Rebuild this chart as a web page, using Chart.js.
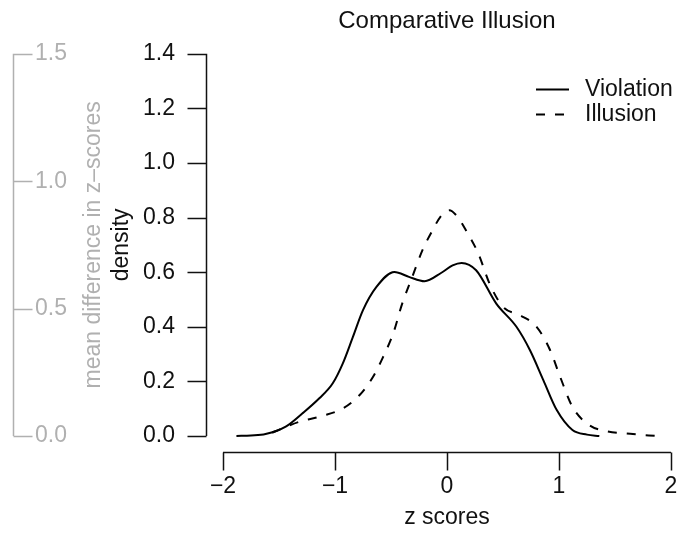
<!DOCTYPE html>
<html>
<head>
<meta charset="utf-8">
<script src="https://cdn.jsdelivr.net/npm/chart.js@4.4.1/dist/chart.umd.min.js"></script>
<style>
  html, body { margin: 0; padding: 0; background: #fff; }
  #wrap { width: 686px; height: 533px; position: relative; }
</style>
</head>
<body>
<div id="wrap"><canvas id="densityChart"></canvas></div>
<script>
// Density curves of the z scores, one per condition
const zViolation = [-1.88, -1.75, -1.62, -1.44, -1.29, -1.14, -1.02, -0.93, -0.84, -0.75, -0.63, -0.47, -0.34, -0.2, -0.05, 0.05, 0.13, 0.26, 0.44, 0.62, 0.74, 0.86, 0.98, 1.12, 1.25, 1.36];
const densityViolation = [0.0, 0.002, 0.007, 0.034, 0.083, 0.138, 0.193, 0.266, 0.363, 0.461, 0.546, 0.601, 0.583, 0.567, 0.598, 0.625, 0.634, 0.607, 0.485, 0.400, 0.315, 0.205, 0.095, 0.022, 0.005, 0.0];

const zIllusion = [-1.56, -1.47, -1.32, -1.11, -0.93, -0.78, -0.66, -0.57, -0.48, -0.40, -0.31, -0.22, -0.13, -0.05, 0.02, 0.09, 0.17, 0.28, 0.38, 0.50, 0.65, 0.80, 0.92, 1.01, 1.12, 1.27, 1.42, 1.66, 1.87];
const densityIllusion = [0.012, 0.028, 0.052, 0.074, 0.101, 0.150, 0.217, 0.290, 0.376, 0.485, 0.583, 0.680, 0.753, 0.808, 0.827, 0.805, 0.753, 0.668, 0.558, 0.473, 0.443, 0.400, 0.315, 0.217, 0.107, 0.040, 0.018, 0.007, 0.0];

// Tick positions for the three axes
const zTicks = [-2, -1, 0, 1, 2];
const densityTicks = [0, 0.2, 0.4, 0.6, 0.8, 1.0, 1.2, 1.4];
const meanDiffTicks = [0, 0.5, 1.0, 1.5];

const FONT = "'Liberation Sans', Arial, Helvetica, sans-serif";
const TEXT_SIZE = 23;
const GREY = '#b0b0b0';
const INK = '#111';

function toPoints(xs, ys) {
    return xs.map((x, i) => ({ x: x, y: ys[i] }));
}

function minusSign(v) {
    return v < 0 ? '\u2212' + Math.abs(v) : String(v);
}

// R-style axes: lines detached from the plot area, ticks pointing outwards
const offsetAxes = {
    id: 'offsetAxes',
    afterDraw(chart) {
        const ctx = chart.ctx;
        const area = chart.chartArea;
        const xs = chart.scales.x;
        const ys = chart.scales.y;
        const gs = chart.scales.yDiff;
        const tick = 18;
        ctx.save();
        ctx.lineWidth = 1.5;

        // x axis
        const ay = Math.round(area.bottom + 16) + 0.5;
        ctx.strokeStyle = INK;
        ctx.beginPath();
        ctx.moveTo(xs.getPixelForValue(zTicks[0]), ay);
        ctx.lineTo(xs.getPixelForValue(zTicks[zTicks.length - 1]), ay);
        zTicks.forEach(v => {
            const px = Math.round(xs.getPixelForValue(v)) + 0.5;
            ctx.moveTo(px, ay);
            ctx.lineTo(px, ay + tick);
        });
        ctx.stroke();

        // density axis
        const ax = Math.round(area.left - 17) + 0.5;
        ctx.beginPath();
        ctx.moveTo(ax, ys.getPixelForValue(densityTicks[0]));
        ctx.lineTo(ax, ys.getPixelForValue(densityTicks[densityTicks.length - 1]));
        densityTicks.forEach(v => {
            const py = Math.round(ys.getPixelForValue(v)) + 0.5;
            ctx.moveTo(ax, py);
            ctx.lineTo(ax - tick - 1, py);
        });
        ctx.stroke();

        // mean difference axis, ticks to the right
        const gx = Math.round(gs.left - 22) + 0.5;
        ctx.strokeStyle = GREY;
        ctx.beginPath();
        ctx.moveTo(gx, gs.getPixelForValue(meanDiffTicks[0]));
        ctx.lineTo(gx, gs.getPixelForValue(meanDiffTicks[meanDiffTicks.length - 1]));
        meanDiffTicks.forEach(v => {
            const py = Math.round(gs.getPixelForValue(v)) + 0.5;
            ctx.moveTo(gx, py);
            ctx.lineTo(gx + tick + 1, py);
        });
        ctx.stroke();
        ctx.restore();
    }
};

// legend in the top right corner, lines instead of boxes
const lineLegend = {
    id: 'lineLegend',
    afterDraw(chart) {
        const ctx = chart.ctx;
        const area = chart.chartArea;
        ctx.save();
        ctx.font = TEXT_SIZE + 'px ' + FONT;
        ctx.textBaseline = 'middle';
        ctx.textAlign = 'left';
        chart.data.datasets.forEach((ds, i) => {
            const y = Math.round(area.top + 35 + i * 25) + 0.5;
            const x0 = area.right - 135;
            ctx.strokeStyle = ds.borderColor;
            ctx.lineWidth = ds.borderWidth;
            ctx.setLineDash(ds.borderDash || []);
            ctx.beginPath();
            ctx.moveTo(x0, y);
            ctx.lineTo(x0 + 33, y);
            ctx.stroke();
            ctx.setLineDash([]);
            ctx.fillStyle = INK;
            ctx.fillText(ds.label, area.right - 86, y);
        });
        ctx.restore();
    }
};

const ctx = document.getElementById('densityChart').getContext('2d');

new Chart(ctx, {
    type: 'line',
    data: {
        datasets: [{
            label: 'Violation',
            data: toPoints(zViolation, densityViolation),
            borderColor: '#000',
            borderWidth: 2,
            borderDash: [],
            pointRadius: 0,
            cubicInterpolationMode: 'monotone',
            clip: false,
            yAxisID: 'y'
        }, {
            label: 'Illusion',
            data: toPoints(zIllusion, densityIllusion),
            borderColor: '#000',
            borderWidth: 2,
            borderDash: [9, 10],
            pointRadius: 0,
            cubicInterpolationMode: 'monotone',
            clip: false,
            yAxisID: 'y'
        }]
    },
    options: {
        responsive: true,
        maintainAspectRatio: false,
        animation: false,
        devicePixelRatio: 1,
        layout: { padding: { left: 35, right: 15, top: 0, bottom: 0 } },
        plugins: {
            legend: { display: false },
            tooltip: { enabled: false },
            title: {
                display: true,
                text: 'Comparative Illusion',
                fullSize: false,
                color: INK,
                font: { family: FONT, size: 24, weight: 'normal' },
                padding: { top: 6, bottom: 18.5 }
            }
        },
        scales: {
            x: {
                type: 'linear',
                min: -2,
                max: 2,
                // invisible tick marks only reserve the gap above the labels
                grid: {
                    display: true,
                    drawOnChartArea: false,
                    drawTicks: true,
                    tickLength: 37,
                    color: 'rgba(0,0,0,0)'
                },
                border: { display: false },
                afterBuildTicks: s => { s.ticks = zTicks.map(v => ({ value: v })); },
                afterFit: s => { s.height = 97; },
                ticks: {
                    color: INK,
                    padding: 0,
                    maxRotation: 0,
                    font: { family: FONT, size: TEXT_SIZE },
                    callback: v => minusSign(v)
                },
                title: {
                    display: true,
                    text: 'z scores',
                    color: INK,
                    font: { family: FONT, size: TEXT_SIZE },
                    padding: { top: 0, bottom: 2 }
                }
            },
            y: {
                type: 'linear',
                position: 'left',
                weight: 0,
                min: 0,
                max: 1.4,
                grid: { display: false },
                border: { display: false },
                afterBuildTicks: s => { s.ticks = densityTicks.map(v => ({ value: v })); },
                afterFit: s => { s.width = 123; },
                ticks: {
                    color: INK,
                    padding: 40,
                    font: { family: FONT, size: TEXT_SIZE },
                    callback: v => v.toFixed(1)
                },
                title: {
                    display: true,
                    text: 'density',
                    color: INK,
                    font: { family: FONT, size: TEXT_SIZE },
                    padding: { top: 8, bottom: 0 }
                }
            },
            yDiff: {
                type: 'linear',
                position: 'left',
                weight: 1,
                min: 0,
                max: 1.5,
                grid: { display: false },
                border: { display: false },
                afterBuildTicks: s => { s.ticks = meanDiffTicks.map(v => ({ value: v })); },
                afterFit: s => { s.width = 65; },
                ticks: {
                    color: GREY,
                    padding: 0,
                    crossAlign: 'far',
                    font: { family: FONT, size: TEXT_SIZE },
                    callback: v => v.toFixed(1)
                },
                title: {
                    display: true,
                    text: 'mean difference in z\u2013scores',
                    color: GREY,
                    font: { family: FONT, size: TEXT_SIZE },
                    padding: { top: 45, bottom: 0 }
                }
            }
        }
    },
    plugins: [offsetAxes, lineLegend]
});
</script>
</body>
</html>
